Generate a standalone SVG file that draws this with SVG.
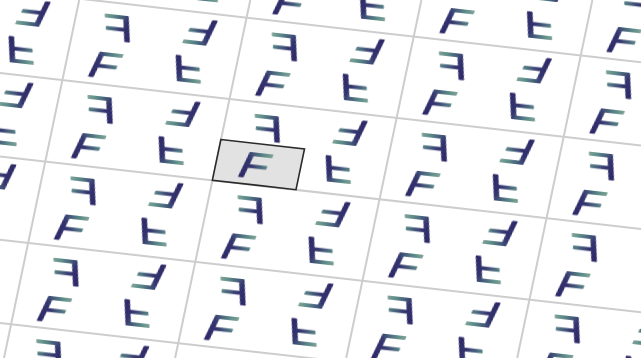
<svg xmlns="http://www.w3.org/2000/svg" xmlns:xlink="http://www.w3.org/1999/xlink" width="641" height="358" viewBox="0 0 641 358">
  <style>
    .grid { stroke: #cdcdcd; stroke-width: 2; fill: none; }
    .glyph { font-family: "Liberation Sans", Arial, sans-serif; font-size: 44px; text-anchor: middle; fill: url(#gf); stroke: url(#gf); stroke-width: 1.1; stroke-linejoin: round; }
    .cell { fill: #e2e2e2; stroke: #2b2b2b; stroke-width: 1.6; }
  </style>
  <defs>
    <linearGradient id="gf" x1="0" y1="1" x2="0.9" y2="0">
      <stop offset="0" stop-color="#2a2262"/>
      <stop offset="0.45" stop-color="#33336f"/>
      <stop offset="0.75" stop-color="#5a8a88"/>
      <stop offset="1" stop-color="#95b2a0"/>
    </linearGradient>
    <g id="F">
      <text class="glyph" x="0" y="15.8" transform="skewX(-14) scale(1.27,1)">F</text>
    </g>
    <pattern id="pg" patternUnits="userSpaceOnUse" width="200" height="100" patternTransform="matrix(0.8355 0.0945 -0.171 0.814 229.5 99)">
      <use xlink:href="#F" href="#F" transform="translate(46,75.7)"/>
      <use xlink:href="#F" href="#F" transform="translate(52.4,28.9) scale(-1,1)"/>
      <use xlink:href="#F" href="#F" transform="translate(150,24.3) rotate(180)"/>
      <use xlink:href="#F" href="#F" transform="translate(143.6,71.1) scale(1,-1)"/>
    </pattern>
  </defs>
  <rect id="background" x="0" y="0" width="641" height="358" fill="#ffffff"/>
  <g id="lattice">
    <line class="grid" x1="0" y1="-10.3" x2="641" y2="62.2"/>
    <line class="grid" x1="0" y1="73.0" x2="641" y2="145.5"/>
    <line class="grid" x1="0" y1="156.4" x2="641" y2="228.9"/>
    <line class="grid" x1="0" y1="239.7" x2="641" y2="312.2"/>
    <line class="grid" x1="0" y1="323.0" x2="641" y2="395.5"/>
    <line class="grid" x1="79.2" y1="0" x2="4.0" y2="358"/>
    <line class="grid" x1="250.3" y1="0" x2="175.1" y2="358"/>
    <line class="grid" x1="421.4" y1="0" x2="346.2" y2="358"/>
    <line class="grid" x1="592.4" y1="0" x2="517.2" y2="358"/>
  </g>
  <g id="fundamental-domain">
    <polygon class="cell" points="220.9,139.5 304.5,149 296,189.7 212.4,180.2"/>
  </g>
  <g id="motifs">
    <rect x="0" y="0" width="641" height="358" fill="url(#pg)"/>
  </g>
</svg>
